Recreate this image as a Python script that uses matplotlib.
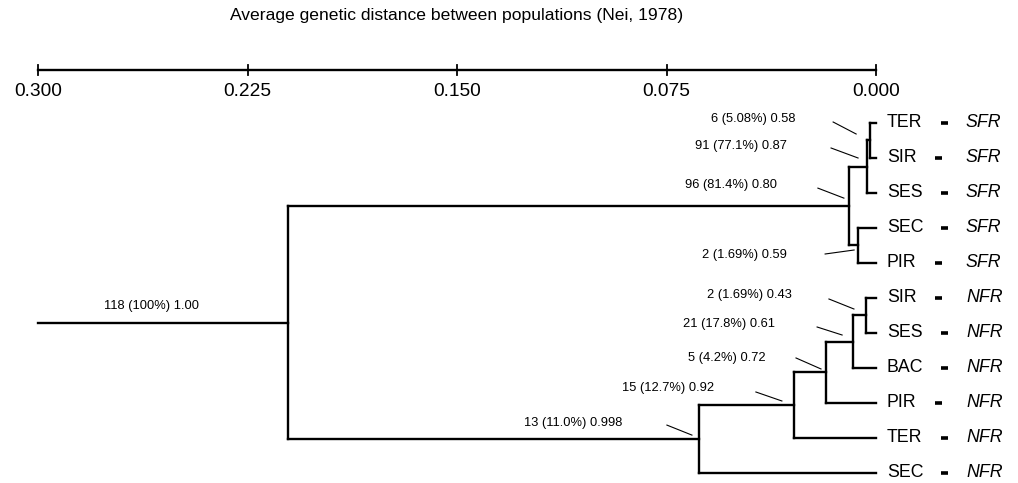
import matplotlib
matplotlib.use("Agg")
import matplotlib.pyplot as plt

plt.rcParams['font.family'] = ['Liberation Sans', 'DejaVu Sans']

# ---------------- data ----------------
leaf_names = ["TER", "SIR", "SES", "SEC", "PIR", "SIR", "SES", "BAC", "PIR", "TER", "SEC"]
leaf_groups = ["SFR", "SFR", "SFR", "SFR", "SFR", "NFR", "NFR", "NFR", "NFR", "NFR", "NFR"]

node_ids = ["A", "B", "D", "C", "E", "F", "G", "H", "I", "R"]
node_left = ["L0", "A", "L3", "B", "L5", "E", "F", "G", "H", "C"]
node_right = ["L1", "L2", "L4", "D", "L6", "L7", "L8", "L9", "L10", "I"]
node_dist = [0.0021, 0.0032, 0.0064, 0.0097, 0.0036, 0.0082, 0.0179, 0.0294, 0.0634, 0.2105]
node_labels = ["6 (5.08%) 0.58", "91 (77.1%) 0.87", "2 (1.69%) 0.59", "96 (81.4%) 0.80",
               "2 (1.69%) 0.43", "21 (17.8%) 0.61", "5 (4.2%) 0.72", "15 (12.7%) 0.92",
               "13 (11.0%) 0.998", "118 (100%) 1.00"]
root_stem_dist = 0.300

scale_ticks = [0.300, 0.225, 0.150, 0.075, 0.000]
scale_tick_labels = ["0.300", "0.225", "0.150", "0.075", "0.000"]
title = "Average genetic distance between populations (Nei, 1978)"

# ---------------- layout (pixels) ----------------
W, H = 1018, 483
PX_PER_UNIT = 2793.0
X_ZERO_PX = 876.0
Y0_PX = 123.0
LEAF_STEP_PX = 35.0

# label offsets relative to node (pixels): text right end, leader line start, leader line end
label_layout = {
    "A": ((-75, -21.5), (-37, -18.5), (-14, -6.5)),
    "B": ((-80, -20.75), (-36, -18.75), (-9, -8.75)),
    "D": ((-71, 9.5), (-33, 8.5), (-4, 4.5)),
    "C": ((-72, -21), (-31, -18), (-5, -8)),
    "E": ((-74, -20.5), (-37, -16.5), (-12, -6.5)),
    "F": ((-78, -17.75), (-36, -14.75), (-11, -6.75)),
    "G": ((-60, -14.4), (-30, -14.4), (-5, -3.4)),
    "H": ((-80, -17.2), (-38, -13.2), (-12, -4.2)),
    "I": ((-77, -16), (-32, -14), (-7, -4)),
    "R": ((-89, -16.6), None, None),
}

def dx(px):
    return -px / PX_PER_UNIT

def dy(px):
    return px / LEAF_STEP_PX

fig = plt.figure(figsize=(W / 100, H / 100), dpi=100)
ax = fig.add_axes([0, 0, 1, 1])
ax.set_xlim(X_ZERO_PX / PX_PER_UNIT, (X_ZERO_PX - W) / PX_PER_UNIT)
ax.set_ylim((H - Y0_PX) / LEAF_STEP_PX, -Y0_PX / LEAF_STEP_PX)
ax.axis("off")

TREE_LW = 1.7
col = "black"

# positions
pos = {}
for i, _ in enumerate(leaf_names):
    pos["L%d" % i] = (0.0, float(i))

for nid, l, r, d in zip(node_ids, node_left, node_right, node_dist):
    xl, yl = pos[l]
    xr, yr = pos[r]
    ax.plot([xl, d], [yl, yl], color=col, lw=TREE_LW, solid_capstyle="projecting")
    ax.plot([xr, d], [yr, yr], color=col, lw=TREE_LW, solid_capstyle="projecting")
    ax.plot([d, d], [yl, yr], color=col, lw=TREE_LW, solid_capstyle="projecting")
    pos[nid] = (d, (yl + yr) / 2.0)

# root stem
rx, ry = pos[node_ids[-1]]
ax.plot([rx, root_stem_dist], [ry, ry], color=col, lw=TREE_LW)

# node annotations
for nid, lab in zip(node_ids, node_labels):
    nx, ny = pos[nid]
    (tx, ty), ls, le = label_layout[nid]
    ax.text(nx + dx(tx), ny + dy(ty), lab, ha="right", va="center", fontsize=9.3, color=col)
    if ls is not None:
        ax.plot([nx + dx(ls[0]), nx + dx(le[0])], [ny + dy(ls[1]), ny + dy(le[1])],
                color=col, lw=0.8)

# leaf labels
name_texts = []
for i, (nm, grp) in enumerate(zip(leaf_names, leaf_groups)):
    t = ax.text(dx(11), i, nm, ha="left", va="center", fontsize=12.8, color=col)
    name_texts.append(t)
    ax.text(dx(90), i, grp, ha="left", va="center", fontsize=12.8, style="italic", color=col)

fig.canvas.draw()
renderer = fig.canvas.get_renderer()
inv = ax.transData.inverted()
for i, t in enumerate(name_texts):
    bb = t.get_window_extent(renderer)
    x_end_px = bb.x1
    xa = inv.transform((x_end_px + 18, 0))[0]
    xb = inv.transform((x_end_px + 25, 0))[0]
    ax.plot([xa, xb], [i, i], color=col, lw=2.6, solid_capstyle="butt")

# distance scale
scale_y = dy(70 - Y0_PX)
ax.plot([scale_ticks[0], scale_ticks[-1]], [scale_y, scale_y], color=col, lw=1.7)
for tv, tl in zip(scale_ticks, scale_tick_labels):
    ax.plot([tv, tv], [scale_y - dy(5), scale_y + dy(5)], color=col, lw=1.3)
    ax.text(tv, scale_y + dy(22), tl, ha="center", va="center", fontsize=13.8, color=col)

ax.text((scale_ticks[0] + scale_ticks[-1]) / 2, dy(16 - Y0_PX), title,
        ha="center", va="center", fontsize=12.6, color=col)

fig.savefig("out.png", dpi=100)
